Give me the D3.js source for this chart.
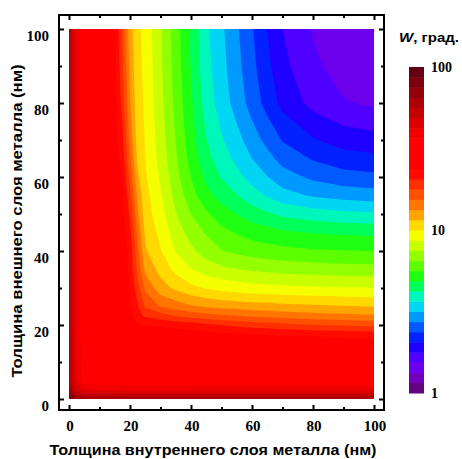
<!DOCTYPE html>
<html><head><meta charset="utf-8">
<script src="https://cdn.jsdelivr.net/npm/d3@7"></script>
<style>body{margin:0;background:#fff}svg{display:block}</style>
</head><body>
<svg id="c" width="462" height="459"></svg>
<script>
// grid coordinates (nm)
const xs = [0, 2.5, 5, 10, 15, 17.5, 20, 22.5, 25, 30, 35, 40, 45, 50, 55, 60, 65, 70, 80, 90, 100];
const ys = [0, 2.5, 5, 10, 15, 17.5, 20, 22.5, 25, 30, 35, 40, 45, 50, 55, 60, 65, 70, 80, 90, 100];
// W (deg), one row per ys value (ascending), columns follow xs
const W = [
 [85, 68, 65.2, 65.1, 65.1, 65.1, 65, 65, 65, 65, 65, 65, 65, 65, 65, 65, 65, 65, 65, 65, 65],
 [66, 45, 41.6, 40.8, 40.7, 40.5, 40.3, 40.1, 40.1, 40.2, 40.1, 40, 40, 40, 40, 40, 40, 40, 40, 40, 40],
 [60.2, 41.6, 34.0, 33.0, 32.8, 32.6, 32.4, 32.3, 32.3, 32.3, 32.1, 32.1, 32.0, 32, 32, 32, 32, 32, 32, 32, 32],
 [60.1, 40.9, 33.5, 32.0, 31.7, 31.2, 30.5, 29.4, 29.3, 29.3, 29.2, 29.1, 29.0, 29, 29, 29, 29, 29, 29, 29, 29],
 [60.1, 40.6, 33.0, 31.0, 30.7, 30.0, 29.2, 27.7, 27.6, 27.4, 27.1, 26.8, 26.7, 26.4, 26.3, 26.1, 26.0, 25.9, 25.7, 25.7, 25.5],
 [60.1, 40.5, 33.0, 30.4, 30.0, 29.2, 28.3, 26.5, 26.3, 26.1, 25.7, 25.2, 24.8, 24.4, 24.0, 23.7, 23.5, 23.3, 22.9, 22.5, 22.2],
 [60.0, 40.2, 32.7, 29.3, 28.8, 27.9, 26.7, 24.0, 23.6, 23.1, 22.5, 22.0, 21.3, 20.4, 19.8, 19.3, 18.9, 18.5, 17.8, 17.5, 17.1],
 [60.0, 40.1, 32.3, 28.5, 27.9, 26.8, 25.3, 21.5, 20.0, 19.0, 17.6, 16.9, 16.2, 15.7, 15.4, 15.0, 14.7, 14.5, 14.1, 13.8, 13.6],
 [60.0, 40.1, 32.2, 28.4, 27.8, 26.6, 24.0, 21.0, 17.5, 15.2, 14.4, 13.6, 13.1, 12.8, 12.6, 12.4, 12.3, 12.1, 11.9, 11.7, 11.5],
 [60.1, 40.2, 32.3, 28.4, 27.8, 26.6, 23.5, 18.8, 15.0, 12.3, 11.2, 10.4, 9.9, 9.55, 9.32, 9.14, 9.02, 8.94, 8.82, 8.75, 8.68],
 [60.0, 40.1, 32.2, 28.2, 27.3, 26.3, 22.8, 17.1, 12.9, 11.0, 9.61, 8.71, 8.13, 7.75, 7.55, 7.38, 7.25, 7.15, 7.00, 6.92, 6.85],
 [60.0, 40.0, 32.1, 28.1, 27.0, 25.8, 22.7, 16.0, 11.8, 10.1, 8.61, 7.73, 7.01, 6.54, 6.30, 6.09, 5.97, 5.86, 5.72, 5.66, 5.61],
 [60.0, 40.0, 32.0, 28.1, 26.8, 25.5, 21.5, 14.9, 11.2, 9.62, 8.04, 7.12, 6.41, 5.86, 5.57, 5.30, 5.15, 4.99, 4.83, 4.76, 4.71],
 [60.0, 40.0, 32.0, 28.0, 26.4, 25.0, 20.0, 13.7, 10.7, 9.20, 7.56, 6.48, 5.77, 5.22, 4.85, 4.54, 4.32, 4.10, 3.90, 3.79, 3.72],
 [60, 40, 32, 28, 26.1, 24.7, 18.5, 12.9, 10.5, 8.85, 7.14, 5.99, 5.10, 4.59, 4.24, 3.87, 3.60, 3.34, 3.11, 2.99, 2.93],
 [60, 40, 32, 28, 25.8, 23.7, 17.0, 11.9, 10.2, 8.48, 6.83, 5.60, 4.70, 4.18, 3.80, 3.47, 3.18, 2.91, 2.66, 2.51, 2.46],
 [60, 40, 32, 28, 25.5, 22.5, 15.7, 11.2, 10.0, 8.25, 6.62, 5.34, 4.43, 3.91, 3.53, 3.16, 2.88, 2.60, 2.34, 2.18, 2.13],
 [60, 40, 32, 28, 25.3, 21.4, 14.7, 10.8, 9.92, 8.08, 6.48, 5.16, 4.25, 3.71, 3.32, 2.93, 2.62, 2.35, 2.08, 1.93, 1.88],
 [60, 40, 32, 28, 24.9, 19.6, 13.5, 10.5, 9.81, 7.86, 6.22, 4.98, 3.95, 3.42, 2.98, 2.58, 2.25, 1.97, 1.70, 1.56, 1.50],
 [60, 40, 32, 28, 24.7, 18.5, 12.8, 10.4, 9.70, 7.70, 6.11, 4.82, 3.83, 3.32, 2.87, 2.47, 2.13, 1.85, 1.59, 1.44, 1.39],
 [60, 40, 32, 28, 24.5, 17.7, 12.3, 10.3, 9.60, 7.60, 6.00, 4.75, 3.75, 3.25, 2.80, 2.40, 2.05, 1.78, 1.52, 1.38, 1.33]
];
const xMajor = [0, 20, 40, 60, 80, 100];
const xMinor = [10, 30, 50, 70, 90];
const yMajor = [0, 20, 40, 60, 80, 100];
const yMinor = [10, 30, 50, 70, 90];
const cbTicks = [1, 10, 100];
const xTitle = "Толщина внутреннего слоя металла (нм)";
const yTitle = "Толщина внешнего слоя металла (нм)";

// colour scale stops: t = log10(W)/2
const stopT = [0, 0.03, 0.06, 0.095, 0.125, 0.155, 0.185, 0.215, 0.248, 0.279, 0.31, 0.34, 0.37, 0.40, 0.44, 0.465, 0.494, 0.525, 0.555, 0.59, 0.64, 0.68, 0.775, 0.84, 0.91, 1.0];
const stopC = ["#560a6a","#6a0096","#7400d8","#6400ff","#3800ff","#0800ff","#0038ff","#0070ff","#00b8ff","#00ecec","#00ff98","#00ff30","#30ff00","#70ff00","#b0ff00","#e0ff00","#ffff00","#ffc800","#ff9600","#ff6400","#ff3000","#ff0000","#ff0000","#d40000","#9a0008","#5a0014"];

const svg = d3.select("#c");
const x = d3.scaleLinear().domain([0, 100]).range([69, 374]);
const y = d3.scaleLinear().domain([0, 100]).range([399, 29]);
const nx = xs.length, ny = ys.length;
const ix = d3.scaleLinear().domain(d3.range(nx)).range(xs).clamp(true);
const iy = d3.scaleLinear().domain(d3.range(ny)).range(ys).clamp(true);
const values = [];
for (let j = 0; j < ny; j++) for (let i = 0; i < nx; i++) values.push(Math.log10(W[j][i]));

const nb = 32;
const thresholds = d3.range(nb).map(k => 2 * k / nb);
const cmap = d3.scaleLinear().domain(stopT).range(stopC).interpolate(d3.interpolateRgb).clamp(true);
const bandColor = k => cmap((k + 0.5) / nb);

const contours = d3.contours().size([nx, ny]).thresholds(thresholds)(values);
const proj = d3.geoTransform({point(px, py) { this.stream.point(x(ix(px - 0.5)), y(iy(py - 0.5))); }});
const path = d3.geoPath(proj);
svg.append("g").selectAll("path").data(contours).join("path")
  .attr("d", path).attr("fill", (d, k) => bandColor(k)).attr("stroke", "none");

// axes (ticks inward)
const fx0 = 59, fx1 = 384, fy0 = 15, fy1 = 410;
function axisG(gen, tx, ty) {
  const g = svg.append("g").attr("transform", `translate(${tx},${ty})`).call(gen);
  g.select(".domain").remove();
  g.selectAll("line").attr("stroke", "#000").attr("stroke-width", 2);
  g.selectAll("text").remove();
}
axisG(d3.axisBottom(x).tickValues(xMajor).tickSize(-5), 0, fy1);
axisG(d3.axisBottom(x).tickValues(xMinor).tickSize(-3), 0, fy1);
axisG(d3.axisTop(x).tickValues(xMajor).tickSize(-5), 0, fy0);
axisG(d3.axisTop(x).tickValues(xMinor).tickSize(-3), 0, fy0);
axisG(d3.axisLeft(y).tickValues(yMajor).tickSize(-5), fx0, 0);
axisG(d3.axisLeft(y).tickValues(yMinor).tickSize(-3), fx0, 0);
axisG(d3.axisRight(y).tickValues(yMajor).tickSize(-5), fx1, 0);
axisG(d3.axisRight(y).tickValues(yMinor).tickSize(-3), fx1, 0);
svg.append("rect").attr("x", fx0).attr("y", fy0).attr("width", fx1 - fx0).attr("height", fy1 - fy0)
  .attr("fill", "none").attr("stroke", "#000").attr("stroke-width", 2);

const serif = "'Liberation Serif','DejaVu Serif',serif";
const sans = "'Liberation Sans','DejaVu Sans',sans-serif";
svg.append("g").selectAll("text").data(xMajor).join("text")
  .attr("x", d => x(d) + 1).attr("y", 431).attr("text-anchor", "middle")
  .attr("font-family", serif).attr("font-weight", "bold").attr("font-size", 15).text(d => d);
svg.append("g").selectAll("text").data(yMajor).join("text")
  .attr("x", 49).attr("y", d => y(d) + 12).attr("text-anchor", "end")
  .attr("font-family", serif).attr("font-weight", "bold").attr("font-size", 15).text(d => d);

svg.append("text").attr("x", 213).attr("y", 455).attr("text-anchor", "middle")
  .attr("font-family", sans).attr("font-weight", "bold").attr("font-size", 14)
  .attr("textLength", 327).attr("lengthAdjust", "spacingAndGlyphs").text(xTitle);
svg.append("text").attr("transform", "translate(22,221) rotate(-90)").attr("text-anchor", "middle")
  .attr("font-family", sans).attr("font-weight", "bold").attr("font-size", 14)
  .attr("textLength", 313).attr("lengthAdjust", "spacingAndGlyphs").text(yTitle);

// colour bar
const cb = d3.scaleLog().domain([1, 100]).range([393, 67]);
svg.append("g").selectAll("rect").data(d3.range(nb)).join("rect")
  .attr("x", 409).attr("width", 15)
  .attr("y", k => cb(Math.pow(10, 2 * (k + 1) / nb)))
  .attr("height", k => cb(Math.pow(10, 2 * k / nb)) - cb(Math.pow(10, 2 * (k + 1) / nb)) + 0.5)
  .attr("fill", k => bandColor(k));
svg.append("g").selectAll("text").data(cbTicks).join("text")
  .attr("x", 431).attr("y", d => cb(d) + 5)
  .attr("font-family", serif).attr("font-weight", "bold").attr("font-size", 14).text(d => d);
const tt = svg.append("text").attr("x", 399).attr("y", 42)
  .attr("font-family", sans).attr("font-weight", "bold").attr("font-size", 13)
  .attr("textLength", 60).attr("lengthAdjust", "spacingAndGlyphs");
tt.append("tspan").attr("font-style", "italic").text("W");
tt.append("tspan").text(", град.");
</script>
</body></html>
